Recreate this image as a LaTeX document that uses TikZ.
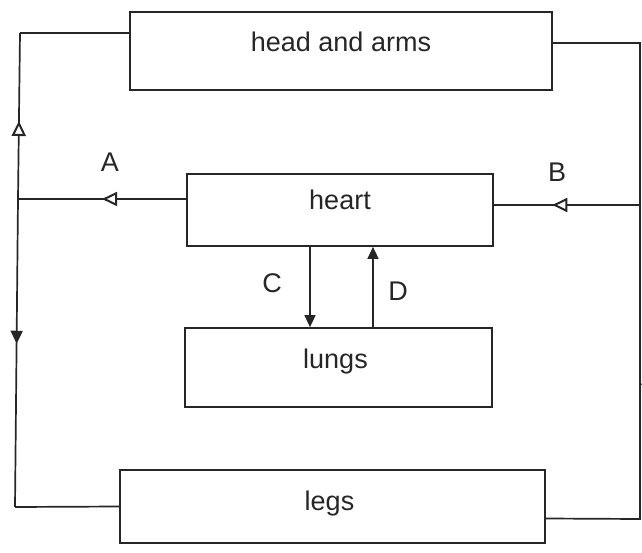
\documentclass[tikz,border=0pt]{standalone}
\usepackage{fontspec}
\setmainfont{Liberation Sans}
\usetikzlibrary{arrows.meta,decorations.markings}
\begin{document}
\begin{tikzpicture}[x=1pt,y=-1pt,
  line width=1.7pt, line join=miter,
  every node/.style={font=\fontsize{27}{32}\selectfont, text=black!85},
  box/.style={draw=black!85, line width=1.7pt, inner sep=0pt},
  lbl/.style={inner sep=0pt},
  wire/.style={draw=black!85, line width=1.7pt},
  openarrow/.style={decoration={markings, mark=at position #1 with {\arrow[line width=2pt]{Triangle[open,length=15pt,width=14pt,fill=white]}}}, postaction={decorate}},
  fillarrow/.style={decoration={markings, mark=at position #1 with {\arrow{Triangle[length=13pt,width=12pt]}}}, postaction={decorate}},
  tipend/.style={-{Triangle[length=12pt,width=11pt]}}
]
\useasboundingbox (0,0) rectangle (642,553);

% boxes
\node[box, minimum width=422pt, minimum height=78pt, label={[name=headtxt, lbl, yshift=9pt]center:head and arms}] (head) at (341,51) {};
\node[box, minimum width=306pt, minimum height=72pt, label={[name=hearttxt, lbl, yshift=10pt]center:heart}] (heart) at (340,210) {};
\node[box, minimum width=307pt, minimum height=79pt, label={[name=lungstxt, lbl, yshift=6pt, xshift=-3pt]center:lungs}] (lungs) at (338.5,367.5) {};
\node[box, minimum width=425pt, minimum height=73pt, label={[name=legstxt, lbl, yshift=3pt, xshift=-3pt]center:legs}] (legs) at (332.5,506.5) {};

% junction / corner coordinates
\coordinate (tl) at (20,33);
\coordinate (jl) at (18,199);
\coordinate (bl) at (15,507);
\coordinate (tr) at (640,43);
\coordinate (jr) at (640,205);
\coordinate (br) at (640,519);

% left side: heart -> A -> split to head and legs
\path[wire, openarrow=0.5] ([yshift=11pt]heart.west) -- (jl);
\path[wire, openarrow=0.47] (jl) -- (tl);
\path[wire] (tl) -- ([yshift=18pt]head.west);
\path[wire, fillarrow=0.47] (jl) -- (bl);
\path[wire] (bl) -- (legs.west);

% right side: head and legs -> B -> heart
\path[wire] ([yshift=8pt]head.east) -- (tr) -- (jr);
\path[wire] ([yshift=-12pt]legs.east) -- (br) -- (jr);
\path[wire, openarrow=0.6] (jr) -- ([yshift=5pt]heart.east);

% heart <-> lungs
\draw[wire, tipend, line width=1.5pt] (heart.south -| 310,0) -- (lungs.north -| 310,0);
\draw[wire, tipend, line width=1.5pt] (lungs.north -| 373,0) -- (heart.south -| 373,0);

% labels
\node[lbl] (A) at (110,162) {A};
\node[lbl] (B) at (557,172) {B};
\node[lbl] (C) at (272,283) {C};
\node[lbl] (D) at (398,291) {D};
\node[lbl] (A2) at (650,376) {A};
\end{tikzpicture}
\end{document}
